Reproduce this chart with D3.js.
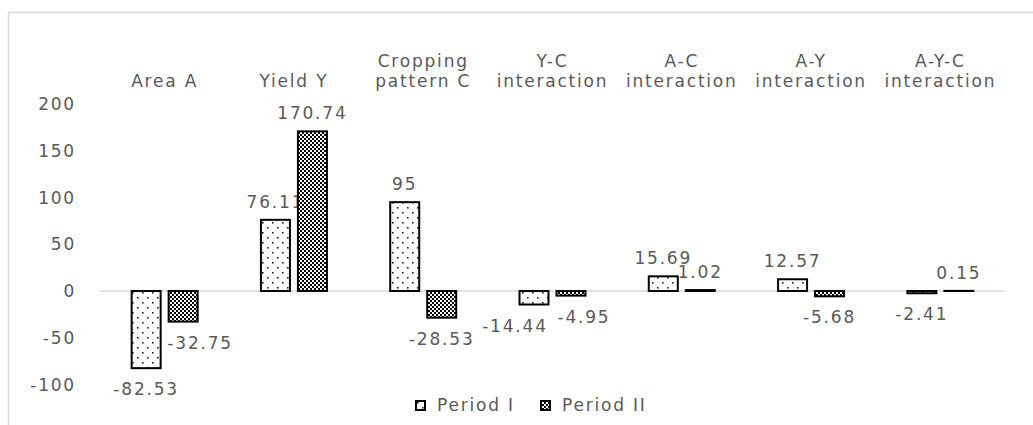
<!DOCTYPE html>
<html>
<head>
<meta charset="utf-8">
<script src="https://cdn.jsdelivr.net/npm/d3@7/dist/d3.min.js"></script>
<style>
  body { margin: 0; background: #fff; }
  text { font-family: "DejaVu Sans", sans-serif; font-size: 17px; fill: #595959; letter-spacing: 1.8px; }
</style>
</head>
<body>
<div id="chart"></div>
<script>
// categories (each label split into lines)
const categories = [
    ["Area A"],
    ["Yield Y"],
    ["Cropping", "pattern C"],
    ["Y-C", "interaction"],
    ["A-C", "interaction"],
    ["A-Y", "interaction"],
    ["A-Y-C", "interaction"]
];
const seriesNames = ["Period I", "Period II"];
const period1 = [-82.53, 76.11, 95, -14.44, 15.69, 12.57, -2.41];
const period2 = [-32.75, 170.74, -28.53, -4.95, 1.02, -5.68, 0.15];
const yTicks = [-100, -50, 0, 50, 100, 150, 200];

// hand-moved data labels (horizontal nudge in px)
const period1LabelDx = [0, 0, 0, -19, 0, 0, 0];
const period2LabelDx = [17, 0, 0, 13, 0, 0, 0];

const width = 1033, height = 425;
const plotLeft = 100, plotRight = 1005;

const svg = d3.select("#chart").append("svg")
    .attr("width", width)
    .attr("height", height);

const defs = svg.append("defs");

// sparse dots for Period I
const dots = defs.append("pattern")
    .attr("id", "dots")
    .attr("patternUnits", "userSpaceOnUse")
    .attr("width", 10).attr("height", 10);
dots.append("rect").attr("width", 10).attr("height", 10).attr("fill", "#fff");
dots.append("rect").attr("x", 2).attr("y", 2).attr("width", 1.6).attr("height", 1.6).attr("fill", "#222");
dots.append("rect").attr("x", 7).attr("y", 7).attr("width", 1.6).attr("height", 1.6).attr("fill", "#222");

// checkerboard for Period II
const checker = defs.append("pattern")
    .attr("id", "checker")
    .attr("patternUnits", "userSpaceOnUse")
    .attr("width", 4).attr("height", 4);
checker.append("rect").attr("width", 4).attr("height", 4).attr("fill", "#000");
checker.append("rect").attr("x", 0).attr("y", 0).attr("width", 2).attr("height", 2).attr("fill", "#fff");
checker.append("rect").attr("x", 2).attr("y", 2).attr("width", 2).attr("height", 2).attr("fill", "#fff");

const fills = ["url(#dots)", "url(#checker)"];

// chart frame
svg.append("rect")
    .attr("x", 8.5).attr("y", 12.5)
    .attr("width", 1040).attr("height", 430)
    .attr("fill", "none")
    .attr("stroke", "#d9d9d9")
    .attr("stroke-width", 1.5);

const x0 = d3.scaleBand()
    .domain(d3.range(categories.length))
    .range([plotLeft, plotRight]);

const pairWidth = 68;
const x1 = d3.scaleBand()
    .domain(seriesNames)
    .range([(x0.bandwidth() - pairWidth) / 2, (x0.bandwidth() + pairWidth) / 2])
    .paddingInner(0.162);

const y = d3.scaleLinear()
    .domain([-100, 200])
    .range([384.5, 104]);

// y tick labels
svg.append("g")
    .selectAll("text")
    .data(yTicks)
    .enter()
    .append("text")
    .attr("x", 76)
    .attr("y", d => y(d) + 6)
    .attr("text-anchor", "end")
    .text(d => d);

// zero line
svg.append("line")
    .attr("x1", plotLeft).attr("x2", plotRight)
    .attr("y1", y(0)).attr("y2", y(0))
    .attr("stroke", "#d9d9d9")
    .attr("stroke-width", 1.5);

// category labels at the top
const catLabels = svg.append("g")
    .selectAll("text")
    .data(categories)
    .enter()
    .append("text")
    .attr("text-anchor", "middle")
    .attr("transform", (d, i) => "translate(" + (x0(i) + x0.bandwidth() / 2) + ",0)");

catLabels.selectAll("tspan")
    .data(d => d.map((t, k) => ({ t: t, y: 87 - (d.length - 1 - k) * 20 })))
    .enter()
    .append("tspan")
    .attr("x", 0)
    .attr("y", d => d.y)
    .text(d => d.t);

// bars + labels, one series after the other
const seriesData = [period1, period2];
const labelDx = [period1LabelDx, period2LabelDx];

seriesNames.forEach((name, s) => {
    const g = svg.append("g").attr("class", "series");
    const rows = seriesData[s].map((v, i) => ({ i: i, v: v, dx: labelDx[s][i] }));

    g.selectAll("rect")
        .data(rows)
        .enter()
        .append("rect")
        .attr("x", d => x0(d.i) + x1(name) + 1)
        .attr("width", x1.bandwidth() - 2)
        .attr("y", d => Math.min(y(d.v), y(0)))
        .attr("height", d => Math.abs(y(d.v) - y(0)))
        .attr("fill", fills[s])
        .attr("stroke", "#000")
        .attr("stroke-width", 2);

    g.selectAll("text")
        .data(rows)
        .enter()
        .append("text")
        .attr("text-anchor", "middle")
        .attr("x", d => x0(d.i) + x1(name) + x1.bandwidth() / 2 + d.dx)
        .attr("y", d => d.v >= 0 ? y(d.v) - 12 : y(d.v) + 27)
        .text(d => d.v);
});

// legend
const legendItems = [
    { name: seriesNames[0], x: 415 },
    { name: seriesNames[1], x: 540 }
];
const legend = svg.append("g")
    .selectAll("g")
    .data(legendItems)
    .enter()
    .append("g")
    .attr("transform", d => "translate(" + d.x + ",400)");

legend.append("rect")
    .attr("x", 1).attr("y", 1)
    .attr("width", 9).attr("height", 9)
    .attr("fill", (d, i) => fills[i])
    .attr("stroke", "#000")
    .attr("stroke-width", 2);

legend.append("text")
    .attr("x", 22)
    .attr("y", 11)
    .text(d => d.name);
</script>
</body>
</html>
